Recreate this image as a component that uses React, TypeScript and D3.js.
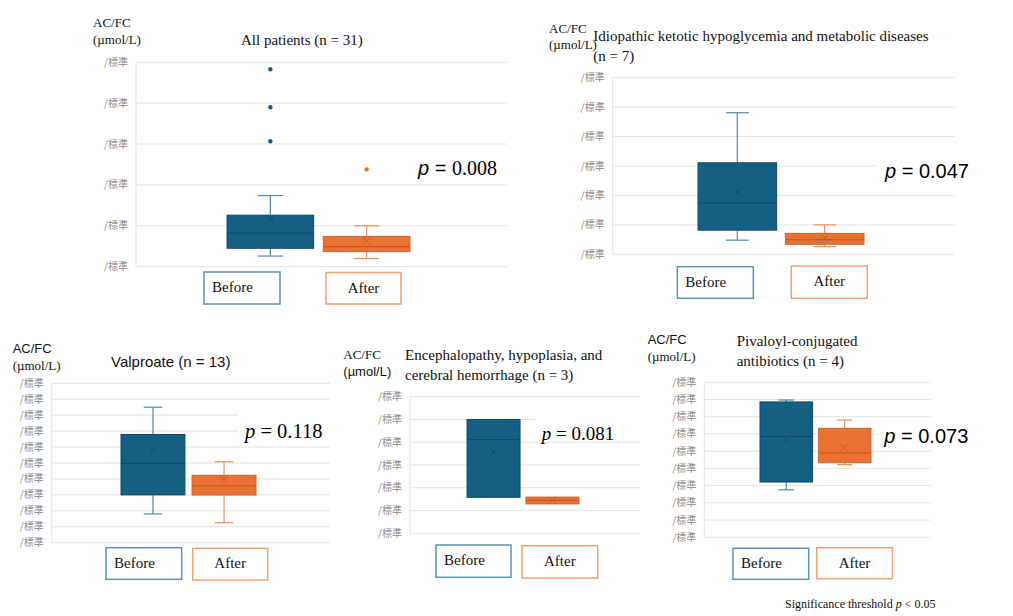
import * as React from 'react';
import * as d3 from 'd3';

// chart data (values in axis-tick units, tick labels are unreadable "/標準" in source)
const groups = ['Before', 'After'];
const tickLabel = '/標準';
const tickCounts = [6, 7, 11, 7, 10];
const panelTitles: string[][] = [
  ['All patients (n = 31)'],
  ['Idiopathic ketotic hypoglycemia and metabolic diseases', '(n = 7)'],
  ['Valproate (n = 13)'],
  ['Encephalopathy, hypoplasia, and', 'cerebral hemorrhage (n = 3)'],
  ['Pivaloyl-conjugated', 'antibiotics (n = 4)'],
];
// [whisker low, Q1, median, Q3, whisker high, mean]
const beforeStats = [
  [0.26, 0.45, 0.82, 1.26, 1.74, 1.17],
  [0.48, 0.82, 1.75, 3.11, 4.81, 2.12],
  [1.8, 3.0, 4.98, 6.79, 8.5, 5.8],
  [1.58, 1.58, 4.12, 5.0, 5.0, 3.58],
  [2.76, 3.21, 5.86, 7.86, 7.97, 5.63],
];
const afterStats = [
  [0.2, 0.37, 0.49, 0.74, 1.0, 0.63],
  [0.26, 0.34, 0.5, 0.71, 1.0, 0.55],
  [1.25, 2.99, 3.56, 4.23, 5.08, 3.98],
  [1.29, 1.29, 1.45, 1.59, 1.59, 1.45],
  [4.22, 4.33, 4.9, 6.33, 6.81, 5.2],
];
const beforeOutliers = [[3.07, 3.9, 4.83], [], [], [], []];
const afterOutliers = [[2.38], [], [], [], []];
const pValues = ['0.008', '0.047', '0.118', '0.081', '0.073'];
const yLabelLines = ['AC/FC', '(µmol/L)'];
const footnote = ['Significance threshold ', 'p', ' < 0.05'];

const SERIF = "'Liberation Serif', 'Times New Roman', serif";
const SANS = "'Liberation Sans', Arial, sans-serif";

const colors = {
  Before: { fill: '#156082', edge: '#0F4A66', median: '#0E4A68', whisker: '#4F8AAA', legend: '#5C93B0' },
  After: { fill: '#E97132', edge: '#D0622A', median: '#C65A24', whisker: '#EE915F', legend: '#F2A175' },
};

// layout for each panel
const layouts = [
  {
    plot: [136, 507, 62.3, 266.7], band: [227, 410],
    yLab: [93, 27, 43.5], yLabFonts: [SERIF, SERIF],
    title: [241, 45], titleFont: SERIF, titleSize: 15,
    legB: [204, 272, 76, 32], legA: [326, 272.5, 75, 31.5],
    p: [418, 175], pFonts: ['sansI', SANS, SERIF], pSize: 20, pBg: null as number[] | null,
  },
  {
    plot: [612.7, 954.3, 77.7, 254.3], band: [698, 864],
    yLab: [549, 33.3, 49.3], yLabFonts: [SERIF, SERIF],
    title: [593.3, 40.7], titleFont: SERIF, titleSize: 15,
    legB: [677.3, 266.7, 76, 31.6], legA: [791.3, 266, 76, 32.3],
    p: [885, 178.3], pFonts: ['sansI', SANS, SANS], pSize: 20, pBg: [876, 156, 95, 28],
  },
  {
    plot: [51.7, 330, 383.3, 542.7], band: [121, 256],
    yLab: [12.7, 353.3, 370], yLabFonts: [SANS, SERIF],
    title: [111, 366.7], titleFont: SANS, titleSize: 15,
    legB: [106, 547.7, 75.7, 31.6], legA: [192.7, 548.3, 75, 31.7],
    p: [245, 438.3], pFonts: ['serifI', SERIF, SERIF], pSize: 20.5, pBg: [238, 404, 95, 37],
  },
  {
    plot: [410, 640, 396.7, 533.3], band: [467, 579],
    yLab: [343.3, 359.3, 376], yLabFonts: [SERIF, SANS],
    title: [405, 360], titleFont: SERIF, titleSize: 15,
    legB: [436, 545, 75, 32.3], legA: [522, 545.7, 75.7, 32.3],
    p: [541.7, 440], pFonts: ['serifI', SERIF, SERIF], pSize: 19, pBg: [535, 410, 105, 29],
  },
  {
    plot: [704.3, 930.7, 382.3, 537.3], band: [760, 871],
    yLab: [647.7, 344, 360.7], yLabFonts: [SANS, SERIF],
    title: [736.7, 346], titleFont: SERIF, titleSize: 15,
    legB: [733, 548.3, 75.7, 31], legA: [816.7, 547.7, 75.7, 31],
    p: [884.3, 442.7], pFonts: ['sansI', SANS, SANS], pSize: 20, pBg: [878, 422, 60, 26],
  },
];

const fontOf = (f: string) => {
  if (f === 'sansI') return { fontFamily: SANS, fontStyle: 'italic' };
  if (f === 'serifI') return { fontFamily: SERIF, fontStyle: 'italic' };
  return { fontFamily: f, fontStyle: 'normal' };
};

const Panel: React.FC<{ i: number }> = ({ i }) => {
  const L = layouts[i];
  const [x0, x1, yTop, yBot] = L.plot;
  const n = tickCounts[i];
  const y = d3.scaleLinear().domain([0, n - 1]).range([yBot, yTop]);
  const x = d3.scaleBand<string>().domain(groups).range(L.band as [number, number]).paddingInner(0.1);
  const bw = x.bandwidth();
  const ticks = d3.range(n);
  const stats: Record<string, number[]> = { Before: beforeStats[i], After: afterStats[i] };
  const outs: Record<string, number[]> = { Before: beforeOutliers[i], After: afterOutliers[i] };
  const pParts = ['p', ' = ', pValues[i]];
  const numFont = fontOf(L.pFonts[2]);

  return (
    <g>
      {ticks.map((t) => (
        <g key={t}>
          <line x1={x0} x2={x1} y1={y(t)} y2={y(t)} stroke="#E3E3E3" strokeWidth={1} />
          <text x={x0 - 8} y={y(t)} dy="0.35em" textAnchor="end" fontSize={10} fill="#8A8A8A"
            fontFamily="'Noto Sans CJK JP', sans-serif">{tickLabel}</text>
        </g>
      ))}
      <line x1={x0} x2={x0} y1={yTop} y2={yBot} stroke="#E3E3E3" />

      {groups.map((g) => {
        const [wl, q1, med, q3, wh, mean] = stats[g];
        const c = colors[g as 'Before' | 'After'];
        const bx = x(g)!;
        const cx = bx + bw / 2;
        const cap = bw * 0.29;
        const m = 3.5;
        return (
          <g key={g}>
            {wh > q3 && (
              <g stroke={c.whisker} strokeWidth={1.2}>
                <line x1={cx} x2={cx} y1={y(q3)} y2={y(wh)} />
                <line x1={cx - cap / 2} x2={cx + cap / 2} y1={y(wh)} y2={y(wh)} />
              </g>
            )}
            {wl < q1 && (
              <g stroke={c.whisker} strokeWidth={1.2}>
                <line x1={cx} x2={cx} y1={y(q1)} y2={y(wl)} />
                <line x1={cx - cap / 2} x2={cx + cap / 2} y1={y(wl)} y2={y(wl)} />
              </g>
            )}
            <rect x={bx} y={y(q3)} width={bw} height={y(q1) - y(q3)} fill={c.fill} stroke={c.edge} strokeWidth={1} />
            <line x1={bx} x2={bx + bw} y1={y(med)} y2={y(med)} stroke={c.median} strokeWidth={1.2} />
            <g stroke={c.median} strokeWidth={1}>
              <line x1={cx - m} x2={cx + m} y1={y(mean) - m} y2={y(mean) + m} />
              <line x1={cx - m} x2={cx + m} y1={y(mean) + m} y2={y(mean) - m} />
            </g>
            {outs[g].map((o, k) => (
              <circle key={k} cx={cx} cy={y(o)} r={2.2} fill={c.fill} />
            ))}
          </g>
        );
      })}

      {/* axis label */}
      {yLabelLines.map((s, k) => (
        <text key={k} x={L.yLab[0]} y={L.yLab[1 + k]} fontSize={13} fill="#111"
          fontFamily={L.yLabFonts[k]}>{s}</text>
      ))}
      {/* title */}
      {panelTitles[i].map((s, k) => (
        <text key={k} x={L.title[0]} y={L.title[1] + k * 20} fontSize={L.titleSize} fill="#111"
          fontFamily={L.titleFont}>{s}</text>
      ))}

      {/* p value */}
      {L.pBg && <rect x={L.pBg[0]} y={L.pBg[1]} width={L.pBg[2]} height={L.pBg[3]} fill="#fff" />}
      <text x={L.p[0]} y={L.p[1]} fontSize={L.pSize} fill="#000" fontFamily={numFont.fontFamily}>
        {pParts.map((s, k) => {
          const f = fontOf(L.pFonts[k]);
          return <tspan key={k} fontFamily={f.fontFamily} fontStyle={f.fontStyle}>{s}</tspan>;
        })}
      </text>

      {/* legend boxes */}
      {groups.map((g) => {
        const r = g === 'Before' ? L.legB : L.legA;
        const c = colors[g as 'Before' | 'After'];
        return (
          <g key={g}>
            <rect x={r[0]} y={r[1]} width={r[2]} height={r[3]} fill="#fff" stroke={c.legend} strokeWidth={1.5} />
            <text x={g === 'Before' ? r[0] + 8 : r[0] + r[2] / 2} y={r[1] + 20}
              textAnchor={g === 'Before' ? 'start' : 'middle'} fontSize={15} fill="#111"
              fontFamily={SERIF}>{g}</text>
          </g>
        );
      })}
    </g>
  );
};

export default function App() {
  return (
    <svg width={1013} height={616} style={{ position: 'absolute', left: 0, top: 0, background: '#fff' }}>
      <rect width={1013} height={616} fill="#fff" />
      {layouts.map((_, i) => <Panel key={i} i={i} />)}
      <text x={785} y={608.3} fontSize={12} fill="#111" fontFamily={SERIF}>
        <tspan>{footnote[0]}</tspan>
        <tspan fontStyle="italic">{footnote[1]}</tspan>
        <tspan>{footnote[2]}</tspan>
      </text>
    </svg>
  );
}
